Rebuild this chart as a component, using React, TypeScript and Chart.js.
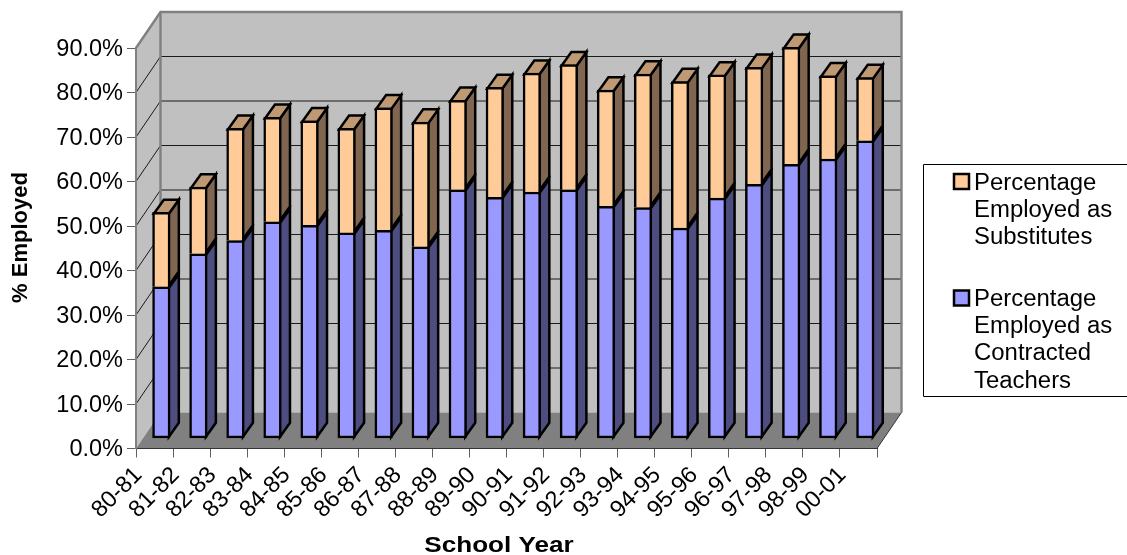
import React, { useEffect, useRef } from "react";
import { Chart, registerables } from "chart.js";

Chart.register(...registerables);

const schoolYears = ["80-81","81-82","82-83","83-84","84-85","85-86","86-87","87-88","88-89","89-90","90-91","91-92","92-93","93-94","94-95","95-96","96-97","97-98","98-99","00-01"];
const contracted = [34.1,41.5,44.5,48.7,47.9,46.2,46.8,43.1,55.9,54.2,55.4,55.9,52.2,51.9,47.3,54.0,57.1,61.6,62.8,66.9];
const substitutes = [16.7,15.0,25.2,23.5,23.5,23.5,27.5,28.0,20.1,24.7,26.7,28.1,26.1,30.0,32.9,27.7,26.3,26.3,18.7,14.2];
const substitutesLegend = ["Percentage", "Employed as", "Substitutes"];
const contractedLegend = ["Percentage", "Employed as", "Contracted", "Teachers"];
const xTitle = "School Year";
const yTitle = "% Employed";

const FONT = '"Liberation Sans", Arial, sans-serif';
const DEPTH_X = 24.5;
const DEPTH_Y = -36;
const BAR_SHIFT_X = 6.8;
const BAR_SHIFT_Y = -10;
const BAR_DEPTH_X = 10;
const BAR_DEPTH_Y = -14;
const EDGE = 2.5;

const shapes: Record<string, { side: string; top: string }> = {
  contracted: { side: "#4D4D80", top: "#7373BF" },
  substitutes: { side: "#806650", top: "#BF9973" },
};

function poly(ctx: CanvasRenderingContext2D, pts: number[][], fill: string | null, stroke?: string, lw = 1) {
  ctx.beginPath();
  pts.forEach((p, i) => (i ? ctx.lineTo(p[0], p[1]) : ctx.moveTo(p[0], p[1])));
  ctx.closePath();
  if (fill) {
    ctx.fillStyle = fill;
    ctx.fill();
  }
  if (stroke) {
    ctx.strokeStyle = stroke;
    ctx.lineWidth = lw;
    ctx.lineJoin = "miter";
    ctx.stroke();
  }
}

const scene3d = {
  id: "scene3d",
  beforeDraw(chart: any) {
    const { ctx, chartArea: a, scales } = chart;
    const L = a.left, R = a.right, T = a.top, B = a.bottom;
    const dx = DEPTH_X, dy = DEPTH_Y;
    ctx.save();
    poly(ctx, [[L + dx, T + dy], [R + dx, T + dy], [R + dx, B + dy], [L + dx, B + dy]], "#C0C0C0");
    poly(ctx, [[L, B], [L, T], [L + dx, T + dy], [L + dx, B + dy]], "#C0C0C0");
    poly(ctx, [[L, B], [R, B], [R + dx, B + dy], [L + dx, B + dy]], "#808080");
    ctx.strokeStyle = "#1a1a1a";
    ctx.lineWidth = 1;
    for (const t of scales.y.ticks) {
      if (t.value === 0 || t.value === 90) continue;
      const y = scales.y.getPixelForValue(t.value);
      ctx.beginPath();
      ctx.moveTo(L, y);
      ctx.lineTo(L + dx, y + dy);
      ctx.lineTo(R + dx, y + dy);
      ctx.stroke();
    }
    ctx.strokeStyle = "#808080";
    ctx.lineWidth = 2.4;
    ctx.beginPath();
    ctx.moveTo(L, T);
    ctx.lineTo(L + dx, T + dy);
    ctx.lineTo(R + dx, T + dy);
    ctx.lineTo(R + dx, B + dy);
    ctx.stroke();
    ctx.beginPath();
    ctx.moveTo(L + dx, T + dy);
    ctx.lineTo(L + dx, B + dy);
    ctx.stroke();
    ctx.strokeStyle = "#333";
    ctx.lineWidth = 1;
    ctx.beginPath();
    ctx.moveTo(L, B);
    ctx.lineTo(R, B);
    ctx.lineTo(R + dx, B + dy);
    ctx.stroke();
    ctx.restore();
  },
  beforeDatasetsDraw(chart: any) {
    const { ctx } = chart;
    ctx.save();
    ctx.translate(BAR_SHIFT_X, BAR_SHIFT_Y);
    const last = chart.data.datasets.length - 1;
    chart.data.datasets.forEach((ds: any, di: number) => {
      const meta = chart.getDatasetMeta(di);
      const c = shapes[ds.key];
      meta.data.forEach((el: any) => {
        const p = el.getProps(["x", "y", "base", "width"], true);
        const h = EDGE / 2;
        const r = p.x + p.width / 2 - h;
        const l = p.x - p.width / 2 + h;
        const top = p.y + h;
        const bdx = BAR_DEPTH_X, bdy = BAR_DEPTH_Y;
        poly(ctx, [[r, top], [r + bdx, top + bdy], [r + bdx, p.base + bdy - h], [r, p.base - h]], c.side, "#000", EDGE);
        if (di === last) {
          poly(ctx, [[l, top], [r, top], [r + bdx, top + bdy], [l + bdx, top + bdy]], c.top, "#000", EDGE);
        }
      });
    });
  },
  afterDatasetsDraw(chart: any) {
    chart.ctx.restore();
  },
  afterDraw(chart: any) {
    const { ctx } = chart;
    ctx.save();
    ctx.strokeStyle = "#000";
    ctx.lineWidth = 1;
    ctx.fillStyle = "#fff";
    ctx.beginPath();
    ctx.rect(923.5, 164.5, 260, 232);
    ctx.fill();
    ctx.stroke();
    const entries = [
      { lines: substitutesLegend, color: "#FFCC99", boxY: 174, base: 190 },
      { lines: contractedLegend, color: "#9999FF", boxY: 290.5, base: 306 },
    ];
    ctx.textBaseline = "alphabetic";
    ctx.textAlign = "left";
    for (const e of entries) {
      ctx.fillStyle = e.color;
      ctx.strokeStyle = "#000";
      ctx.lineWidth = EDGE;
      ctx.fillRect(954, e.boxY, 15, 15);
      ctx.strokeRect(954, e.boxY, 15, 15);
      ctx.fillStyle = "#000";
      ctx.font = `23px ${FONT}`;
      e.lines.forEach((t, i) => {
        ctx.save();
        ctx.translate(974, e.base + i * 27.2);
        ctx.scale(1.04, 1);
        ctx.fillText(t, 0, 0);
        ctx.restore();
      });
    }
    // Axis titles
    ctx.fillStyle = "#000";
    ctx.font = `bold 22.5px ${FONT}`;
    ctx.textAlign = "center";
    ctx.save();
    ctx.translate(499, 552);
    ctx.scale(1.16, 1);
    ctx.fillText(xTitle, 0, 0);
    ctx.restore();
    ctx.font = `bold 22px ${FONT}`;
    ctx.save();
    ctx.translate(27, 237.5);
    ctx.rotate(-Math.PI / 2);
    ctx.fillText(yTitle, 0, 0);
    ctx.restore();
    ctx.restore();
  },
};

export default function App() {
  const ref = useRef<HTMLCanvasElement>(null);
  useEffect(() => {
    document.body.style.margin = "0";
    document.body.style.background = "#fff";
    const chart = new Chart(ref.current!, {
      type: "bar",
      data: {
        labels: schoolYears,
        datasets: [
          { key: "contracted", label: contractedLegend.join(" "), data: contracted, backgroundColor: "#9999FF", borderColor: "#000", borderWidth: EDGE, borderSkipped: false, stack: "s", barThickness: 17.5, clip: false } as any,
          { key: "substitutes", label: substitutesLegend.join(" "), data: substitutes, backgroundColor: "#FFCC99", borderColor: "#000", borderWidth: EDGE, borderSkipped: "bottom", stack: "s", barThickness: 17.5, clip: false } as any,
        ],
      },
      options: {
        responsive: false,
        animation: false,
        devicePixelRatio: 1,
        layout: { padding: { top: 48, right: 250, left: 0, bottom: 0 } },
        plugins: { legend: { display: false }, tooltip: { enabled: false } },
        scales: {
          x: {
            stacked: true,
            afterFit: (s: any) => { s.height = 106.5; },
            grid: { drawOnChartArea: false, drawTicks: true, tickLength: 9, color: "#606060", lineWidth: 1 },
            border: { display: true, color: "#333", width: 1 },
            ticks: { color: "#000", font: { family: FONT, size: 23.5 }, minRotation: 45, maxRotation: 45, labelOffset: -16, padding: 4, autoSkip: false },
          },
          y: {
            stacked: true,
            min: 0,
            max: 90,
            afterFit: (s: any) => { s.width = 136; },
            grid: { drawOnChartArea: false, drawTicks: true, tickLength: 9, color: "#606060", lineWidth: 1 },
            border: { display: true, color: "#808080", width: 2 },
            ticks: { stepSize: 10, color: "#000", font: { family: FONT, size: 23.5 }, padding: 4, labelOffset: 1.5, callback: (v: any) => Number(v).toFixed(1) + "%" },
          },
        },
      } as any,
      plugins: [scene3d],
    });
    return () => chart.destroy();
  }, []);
  return (
    <div style={{ width: 1127, height: 555, overflow: "hidden", background: "#fff" }}>
      <canvas ref={ref} width={1127} height={555} style={{ display: "block" }} />
    </div>
  );
}
